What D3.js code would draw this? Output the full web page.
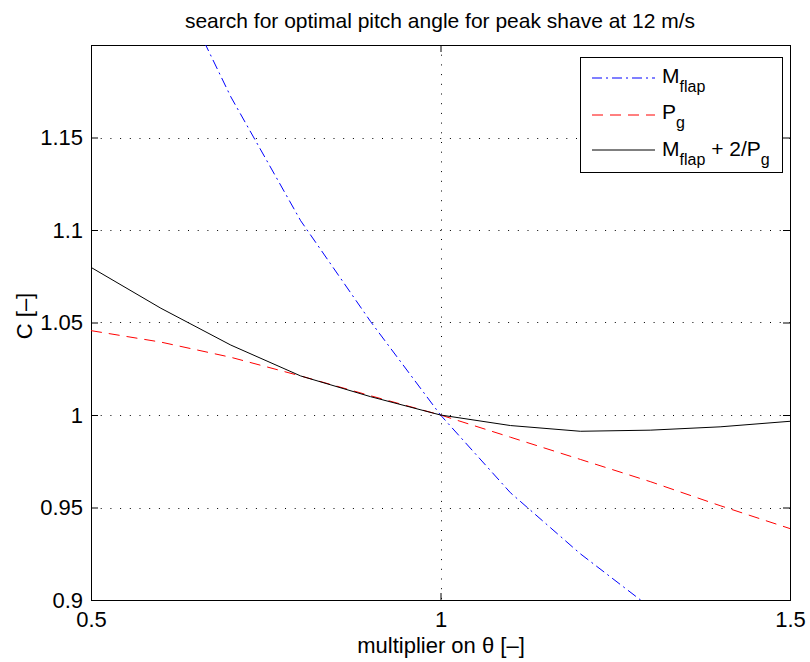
<!DOCTYPE html>
<html>
<head>
<meta charset="utf-8">
<script src="https://cdn.jsdelivr.net/npm/d3@7"></script>
<style>
  body { margin: 0; background: #fff; }
  svg { display: block; font-family: "Liberation Sans", Arial, sans-serif; }
  .grid line { stroke: #000; stroke-width: 1; stroke-dasharray: 1,8.7; }
</style>
</head>
<body>
<svg id="chart" width="810" height="662"></svg>
<script>
// multiplier on pitch angle
var multipliers = [0.5, 0.6, 0.7, 0.8, 0.9, 1.0, 1.1, 1.2, 1.3, 1.4, 1.5];
var mFlap = [1.34, 1.25, 1.172, 1.105, 1.0505, 1.0, 0.958, 0.925, 0.896, 0.869, 0.844];
var pG = [1.0456, 1.0394, 1.0312, 1.0211, 1.0104, 1.0, 0.988, 0.976, 0.964, 0.951, 0.9386];
var combined = [1.0798, 1.0577, 1.0378, 1.0211, 1.0099, 1.0, 0.9943, 0.9912, 0.9918, 0.9936, 0.9966];
var xTicks = [0.5, 1, 1.5];
var yTicks = [0.9, 0.95, 1, 1.05, 1.1, 1.15];

var svg = d3.select("#chart");
var margin = { top: 45, right: 20, bottom: 62, left: 91 };
var width = 810 - margin.left - margin.right,
    height = 662 - margin.top - margin.bottom;

var x = d3.scaleLinear().domain([0.5, 1.5]).range([0, width]);
var y = d3.scaleLinear().domain([0.9, 1.2]).range([height, 0]);

svg.append("defs").append("clipPath").attr("id", "clip")
  .append("rect").attr("width", width).attr("height", height);

var g = svg.append("g").attr("transform", "translate(" + margin.left + "," + margin.top + ")");

// grid
var grid = g.append("g").attr("class", "grid");
grid.selectAll(".gy").data(yTicks.filter(function (d) { return d > 0.9; })).enter()
  .append("line")
  .attr("x1", 0).attr("x2", width)
  .attr("y1", function (d) { return Math.round(y(d)) + 0.5; })
  .attr("y2", function (d) { return Math.round(y(d)) + 0.5; });
grid.selectAll(".gx").data(xTicks.filter(function (d) { return d > 0.5 && d < 1.5; })).enter()
  .append("line")
  .attr("y1", 0).attr("y2", height)
  .attr("x1", function (d) { return Math.round(x(d)) + 0.5; })
  .attr("x2", function (d) { return Math.round(x(d)) + 0.5; });

// axes with inward ticks on all four sides
function styleAxis(sel) {
  sel.selectAll("text").style("font-size", "22px").attr("fill", "#000");
  sel.selectAll("line").attr("stroke", "#000");
  sel.select(".domain").remove();
}
g.append("g").attr("transform", "translate(0," + height + ")")
  .call(d3.axisBottom(x).tickValues(xTicks).tickSize(-7).tickPadding(11).tickFormat(d3.format("")))
  .call(styleAxis);
g.append("g")
  .call(d3.axisTop(x).tickValues(xTicks).tickSize(-7).tickFormat(""))
  .call(styleAxis);
g.append("g")
  .call(d3.axisLeft(y).tickValues(yTicks).tickSize(-7).tickPadding(8).tickFormat(d3.format("")))
  .call(styleAxis);
g.append("g").attr("transform", "translate(" + width + ",0)")
  .call(d3.axisRight(y).tickValues(yTicks).tickSize(-7).tickFormat(""))
  .call(styleAxis);

// frame
g.append("rect").attr("x", 0.5).attr("y", 0.5).attr("width", width).attr("height", height)
  .attr("fill", "none").attr("stroke", "#000").attr("stroke-width", 1);

// series
var series = [
  { values: mFlap, color: "#0000ff", dash: "10,4,2,4", width: 1 },
  { values: pG, color: "#ff0000", dash: "11,7", width: 1 },
  { values: combined, color: "#000", dash: null, width: 1 }
];
var line = d3.line()
  .x(function (d, i) { return x(multipliers[i]); })
  .y(function (d) { return y(d); });
var plot = g.append("g").attr("clip-path", "url(#clip)");
series.forEach(function (s) {
  plot.append("path")
    .attr("d", line(s.values))
    .attr("fill", "none")
    .attr("stroke", s.color)
    .attr("stroke-width", s.width)
    .attr("stroke-dasharray", s.dash);
});

// titles
svg.append("text").attr("x", 440).attr("y", 28).attr("text-anchor", "middle")
  .style("font-size", "21px").text("search for optimal pitch angle for peak shave at 12 m/s");
svg.append("text").attr("x", 441).attr("y", 653).attr("text-anchor", "middle")
  .style("font-size", "22px").text("multiplier on \u03b8 [\u2013]");
svg.append("text").attr("transform", "translate(32,316) rotate(-90)").attr("text-anchor", "middle")
  .style("font-size", "22px").text("C [\u2013]");

// legend
var legend = svg.append("g");
legend.append("rect").attr("x", 580.5).attr("y", 57.5).attr("width", 202).attr("height", 115)
  .attr("fill", "#fff").attr("stroke", "#000");
var legendRows = [
  { y: 78, base: 83, parts: [["M", 0], ["flap", 1]] },
  { y: 115, base: 119, parts: [["P", 0], ["g", 1]] },
  { y: 150, base: 156, parts: [["M", 0], ["flap", 1], [" + 2/P", 0], ["g", 1]] }
];
legendRows.forEach(function (r, i) {
  var s = series[i];
  legend.append("line").attr("x1", 592).attr("x2", 655).attr("y1", r.y).attr("y2", r.y)
    .attr("stroke", s.color).attr("stroke-dasharray", s.dash);
  var t = legend.append("text").attr("x", 662).attr("y", r.base).style("font-size", "21px")
    .attr("xml:space", "preserve");
  var sub = false;
  r.parts.forEach(function (p) {
    var ts = t.append("tspan").text(p[0]);
    if (p[1] && !sub) { ts.attr("dy", 9).style("font-size", "16px"); sub = true; }
    else if (!p[1] && sub) { ts.attr("dy", -9); sub = false; }
  });
});
</script>
</body>
</html>
